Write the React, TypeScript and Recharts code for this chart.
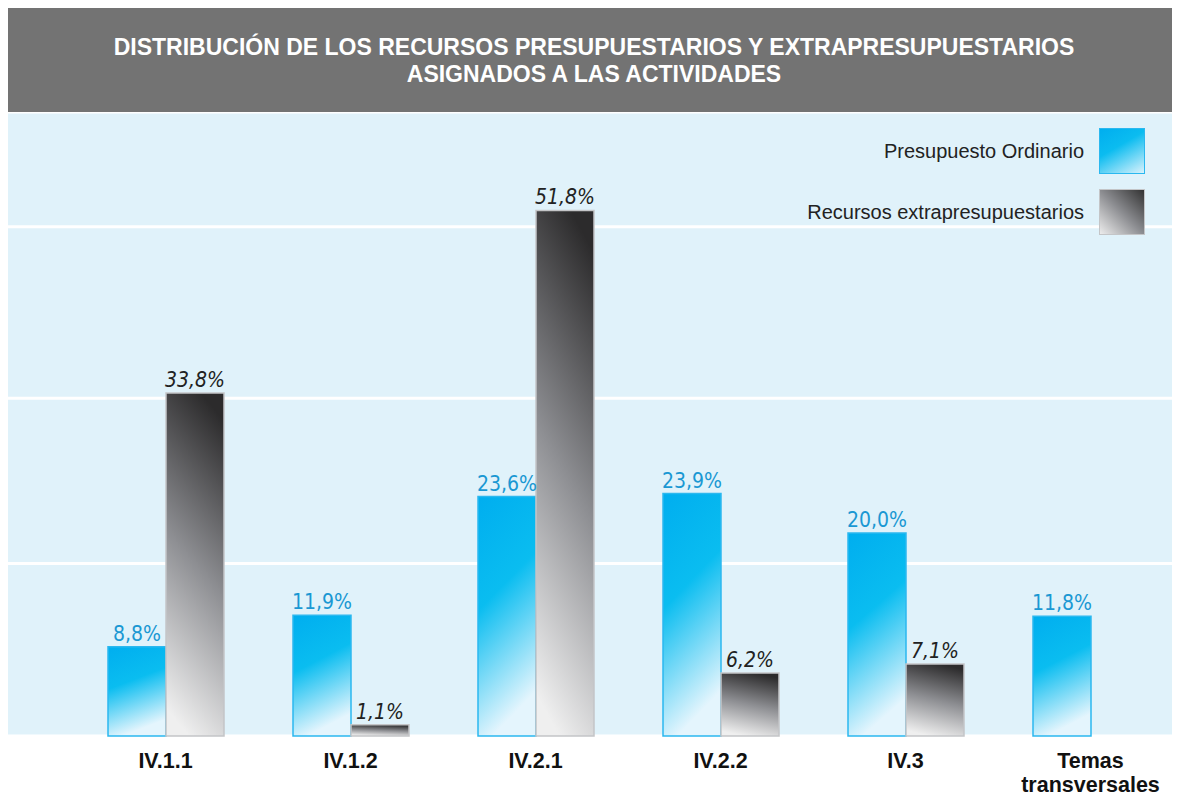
import { Bar, BarChart, CartesianGrid, LabelList, Legend, XAxis, YAxis } from "recharts";

// values, in percent
const categories = ["IV.1.1", "IV.1.2", "IV.2.1", "IV.2.2", "IV.3", "Temas transversales"];
const ordinario = [8.8, 11.9, 23.6, 23.9, 20.0, 11.8];
const extrapresupuestario: (number | null)[] = [33.8, 1.1, 51.8, 6.2, 7.1, null];
const gridTicks = [17, 33.3, 50.2];

const data = categories.map((name, i) => ({
  name,
  ordinario: ordinario[i],
  extra: extrapresupuestario[i],
}));

const CONDENSED = "'Liberation Sans Narrow', 'DejaVu Sans Condensed', 'Liberation Sans', sans-serif";
const SANS = "'Liberation Sans', Arial, sans-serif";

const fmtPct = (v: unknown) =>
  typeof v === "number" ? `${v.toFixed(1).replace(".", ",")}%` : "";

const swatch: Record<string, React.CSSProperties> = {
  ordinario: {
    background: "linear-gradient(150deg, #00aeef 0%, #0bbcf0 40%, #d9f2fc 100%)",
    border: "1.5px solid #2bb8ef",
  },
  extra: {
    background: "linear-gradient(225deg, #333 0%, #8b8c90 50%, #ececec 100%)",
    border: "1.5px solid #c4c5c7",
  },
};

function LegendBox(props: any) {
  const items = props.payload ?? [];
  return (
    <div style={{ display: "flex", flexDirection: "column", alignItems: "flex-end", gap: 15 }}>
      {items.map((it: any) => (
        <div key={it.dataKey} style={{ display: "flex", alignItems: "center", gap: 15 }}>
          <span style={{ fontFamily: SANS, fontSize: 20, color: "#222" }}>{it.value}</span>
          <span style={{ width: 44, height: 44, boxSizing: "content-box", ...swatch[it.dataKey] }} />
        </div>
      ))}
    </div>
  );
}

// category labels, "Temas transversales" wraps onto two lines
function CategoryTick({ x, y, payload }: any) {
  const lines = String(payload.value).split(" ");
  return (
    <text x={x} y={y} textAnchor="middle" fontFamily={SANS} fontWeight={700} fontSize={21.5} fill="#111">
      {lines.map((l, i) => (
        <tspan key={l} x={x} dy={i === 0 ? 24 : 24}>
          {l}
        </tspan>
      ))}
    </text>
  );
}

export default function App() {
  return (
    <div style={{ width: 1172 }}>
      <div
        style={{
          height: 104,
          background: "#737373",
          color: "#fff",
          fontFamily: SANS,
          fontWeight: 700,
          fontSize: 23,
          lineHeight: "27px",
          textAlign: "center",
          paddingTop: 26,
          boxSizing: "border-box",
        }}
      >
        DISTRIBUCIÓN DE LOS RECURSOS PRESUPUESTARIOS Y EXTRAPRESUPUESTARIOS
        <br />
        ASIGNADOS A LAS ACTIVIDADES
      </div>
      <BarChart
        width={1172}
        height={684}
        data={data}
        margin={{ top: 0, right: 0, bottom: 0, left: 0 }}
        barGap={0}
        barCategoryGap={0}
      >
        <defs>
          <linearGradient id="gOrd" x1="0" y1="0" x2="0.25" y2="1">
            <stop offset="0%" stopColor="#00aeef" />
            <stop offset="45%" stopColor="#0abdf0" />
            <stop offset="100%" stopColor="#e4f5fd" />
          </linearGradient>
          <linearGradient id="gExt" x1="0.6" y1="0" x2="0.4" y2="1">
            <stop offset="0%" stopColor="#2c2b2c" />
            <stop offset="50%" stopColor="#8e8f93" />
            <stop offset="100%" stopColor="#efefef" />
          </linearGradient>
        </defs>
        <CartesianGrid vertical={false} fill="#e0f2fa" stroke="#ffffff" strokeWidth={3} />
        <XAxis
          dataKey="name"
          axisLine={false}
          tickLine={false}
          height={60}
          interval={0}
          padding={{ left: 65, right: -3 }}
          tick={<CategoryTick />}
        />
        <YAxis hide domain={[0, 61.5]} ticks={gridTicks} />
        <Legend
          layout="vertical"
          align="center"
          verticalAlign="middle"
          content={<LegendBox />}
          wrapperStyle={{ top: 16, right: 35, left: "auto", bottom: "auto", width: "auto" }}
        />
        <Bar
          dataKey="ordinario"
          name="Presupuesto Ordinario"
          barSize={58}
          fill="url(#gOrd)"
          stroke="#2bb8ef"
          strokeWidth={1.5}
          isAnimationActive={false}
        >
          <LabelList
            dataKey="ordinario"
            position="top"
            offset={6}
            formatter={fmtPct}
            fill="#1a98d3"
            fontFamily={CONDENSED}
            fontSize={21}
          />
        </Bar>
        <Bar
          dataKey="extra"
          name="Recursos extrapresupuestarios"
          barSize={58}
          fill="url(#gExt)"
          stroke="#c4c5c7"
          strokeWidth={1.5}
          isAnimationActive={false}
        >
          <LabelList
            dataKey="extra"
            position="top"
            offset={6}
            formatter={fmtPct}
            fill="#222"
            fontStyle="italic"
            fontFamily={CONDENSED}
            fontSize={21}
          />
        </Bar>
      </BarChart>
    </div>
  );
}
